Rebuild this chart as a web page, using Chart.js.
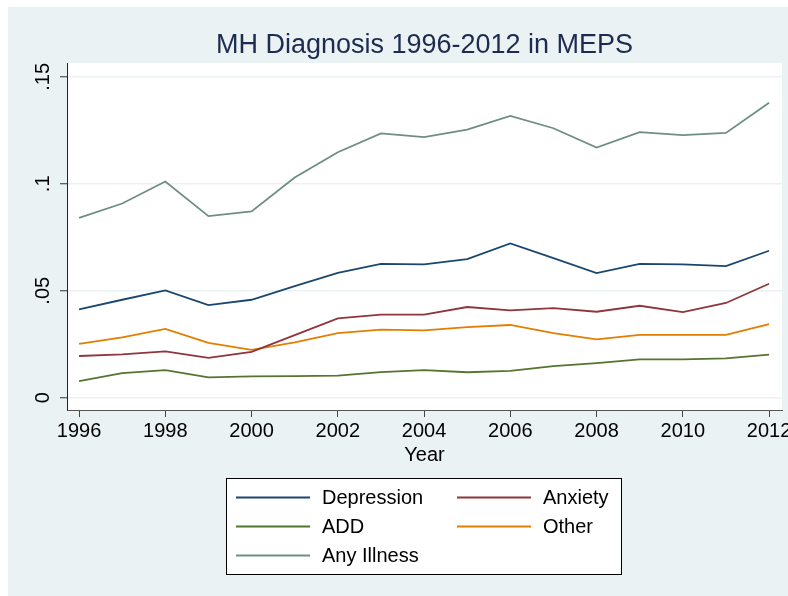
<!DOCTYPE html>
<html>
<head>
<meta charset="utf-8">
<script src="https://cdn.jsdelivr.net/npm/chart.js@4"></script>
<style>
  html, body { margin: 0; padding: 0; background: #fff; }
</style>
</head>
<body>
<canvas id="myChart" width="788" height="596"></canvas>
<script>
const years = [1996, 1997, 1998, 1999, 2000, 2001, 2002, 2003, 2004, 2005, 2006, 2007, 2008, 2009, 2010, 2011, 2012];
const depression = [0.0413, 0.0458, 0.0502, 0.0433, 0.0458, 0.0522, 0.0584, 0.0626, 0.0623, 0.0648, 0.0721, 0.0653, 0.0583, 0.0626, 0.0623, 0.0615, 0.0687];
const anxiety = [0.0195, 0.0203, 0.0217, 0.0186, 0.0214, 0.0293, 0.0371, 0.0388, 0.0388, 0.0424, 0.0408, 0.0419, 0.0402, 0.0430, 0.0400, 0.0443, 0.0533];
const add = [0.0078, 0.0115, 0.0129, 0.0095, 0.0100, 0.0101, 0.0103, 0.0120, 0.0129, 0.0119, 0.0125, 0.0148, 0.0162, 0.0179, 0.0179, 0.0184, 0.0201];
const other = [0.0252, 0.0282, 0.0322, 0.0256, 0.0224, 0.0259, 0.0302, 0.0318, 0.0315, 0.0330, 0.0340, 0.0302, 0.0273, 0.0294, 0.0294, 0.0294, 0.0344];
const anyIllness = [0.0841, 0.0908, 0.1011, 0.0849, 0.0871, 0.1030, 0.1148, 0.1236, 0.1218, 0.1254, 0.1318, 0.1260, 0.1170, 0.1242, 0.1228, 0.1238, 0.1379];

const seriesNames = ['Depression', 'Anxiety', 'ADD', 'Other', 'Any Illness'];
const xTicks = [1996, 1998, 2000, 2002, 2004, 2006, 2008, 2010, 2012];
const yTicks = [0, 0.05, 0.1, 0.15];
const yTickLabels = ['0', '.05', '.1', '.15'];

const colors = ['#1a476f', '#90353b', '#55752f', '#e37e00', '#6e8e84'];
const FONT = '"Liberation Sans", Arial, Helvetica, sans-serif';

const series = [depression, anxiety, add, other, anyIllness];
const datasets = series.map((vals, i) => ({
  label: seriesNames[i],
  data: years.map((yr, j) => ({ x: yr, y: vals[j] })),
  borderColor: colors[i],
  backgroundColor: colors[i],
  borderWidth: 1.8,
  pointRadius: 0,
  tension: 0,
  fill: false
}));

// Stata-like frame, rotated y labels and boxed legend
const stataFrame = {
  id: 'stataFrame',
  beforeDraw(chart) {
    const { ctx, chartArea: a } = chart;
    ctx.save();
    ctx.fillStyle = '#ffffff';
    ctx.fillRect(0, 0, chart.width, chart.height);
    ctx.fillStyle = '#eaf2f3';
    ctx.fillRect(8, 7, chart.width - 8, chart.height - 7);
    ctx.fillStyle = '#ffffff';
    ctx.fillRect(a.left, a.top, a.right - a.left, a.bottom - a.top);
    ctx.restore();
  },
  afterDraw(chart) {
    const ctx = chart.ctx;
    const ys = chart.scales.y;
    ctx.save();
    ctx.fillStyle = '#000';
    ctx.font = '20px ' + FONT;
    ctx.textAlign = 'center';
    ctx.textBaseline = 'middle';
    yTicks.forEach((v, i) => {
      ctx.save();
      ctx.translate(43, ys.getPixelForValue(v));
      ctx.rotate(-Math.PI / 2);
      ctx.fillText(yTickLabels[i], 0, 0);
      ctx.restore();
    });

    // legend box
    const bx = 226, by = 478, bw = 395, bh = 96;
    ctx.fillStyle = '#fff';
    ctx.fillRect(bx, by, bw, bh);
    ctx.strokeStyle = '#000';
    ctx.lineWidth = 1;
    ctx.strokeRect(bx + 0.5, by + 0.5, bw, bh);
    const colX = [236, 457];
    const rowY = [497.5, 526.5, 555.5];
    ctx.textAlign = 'left';
    ctx.textBaseline = 'middle';
    chart.data.datasets.forEach((ds, i) => {
      const c = i % 2, r = Math.floor(i / 2);
      const x = colX[c], y = rowY[r];
      ctx.strokeStyle = ds.borderColor;
      ctx.lineWidth = 1.8;
      ctx.beginPath();
      ctx.moveTo(x, y);
      ctx.lineTo(x + 74, y);
      ctx.stroke();
      ctx.fillStyle = '#000';
      ctx.fillText(ds.label, x + 86, y + 1);
    });
    ctx.restore();
  }
};

new Chart(document.getElementById('myChart'), {
  type: 'line',
  data: { datasets },
  plugins: [stataFrame],
  options: {
    responsive: false,
    animation: false,
    devicePixelRatio: 1,
    layout: { padding: { left: 0, right: 6, top: 0, bottom: 126 } },
    plugins: {
      legend: { display: false },
      tooltip: { enabled: false },
      title: {
        display: true,
        text: 'MH Diagnosis 1996-2012 in MEPS',
        fullSize: false,
        color: '#1c2b4f',
        font: { family: FONT, size: 27, weight: 'normal', lineHeight: 1.2 },
        padding: { top: 29, bottom: 1.6 }
      }
    },
    scales: {
      x: {
        type: 'linear',
        min: 1995.72,
        max: 2012.3,
        afterBuildTicks: (s) => { s.ticks = xTicks.map(v => ({ value: v })); },
        afterFit: (s) => { s.height = 60; s.paddingLeft = 0; s.paddingRight = 0; },
        grid: { drawOnChartArea: false, drawTicks: true, tickLength: 7, tickColor: '#444', tickWidth: 1 },
        border: { color: '#555', width: 1 },
        ticks: {
          color: '#000',
          font: { family: FONT, size: 20 },
          padding: 2,
          maxRotation: 0,
          autoSkip: false,
          callback: (v) => String(v)
        },
        title: {
          display: true,
          text: 'Year',
          color: '#000',
          font: { family: FONT, size: 20 },
          padding: { top: 0, bottom: 3 }
        }
      },
      y: {
        min: -0.00575,
        max: 0.1565,
        afterBuildTicks: (s) => { s.ticks = yTicks.map(v => ({ value: v })); },
        afterFit: (s) => { s.width = 67; s.paddingTop = 0; s.paddingBottom = 0; },
        grid: { color: '#eaf2f3', lineWidth: 1.5, drawTicks: true, tickLength: 7, tickColor: '#333', tickWidth: 1 },
        border: { color: '#222', width: 1 },
        ticks: { display: false }
      }
    }
  }
});
</script>
</body>
</html>
